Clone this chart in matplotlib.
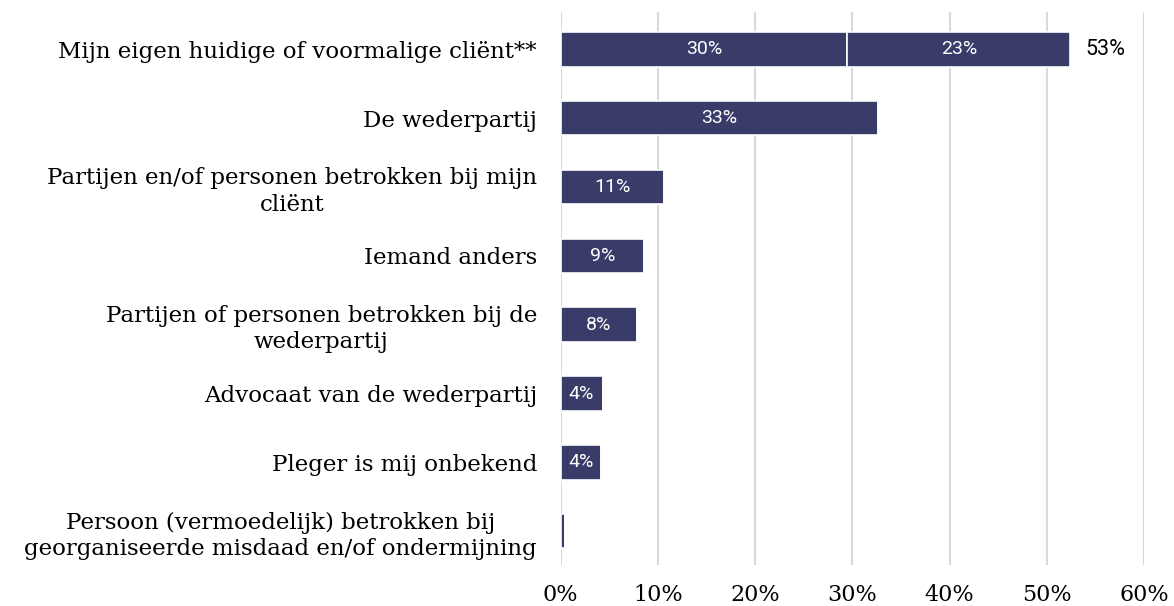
import matplotlib.pyplot as plt
import numpy as np

# categorieen (van boven naar beneden)
categories = [
    'Mijn eigen huidige of voormalige cliënt**',
    'De wederpartij',
    'Partijen en/of personen betrokken bij mijn\ncliënt',
    'Iemand anders',
    'Partijen of personen betrokken bij de\nwederpartij',
    'Advocaat van de wederpartij',
    'Pleger is mij onbekend',
    'Persoon (vermoedelijk) betrokken bij\ngeorganiseerde misdaad en/of ondermijning',
]
deel1 = [29.5, 32.6, 10.6, 8.6, 7.8, 4.3, 4.1, 0.4]
deel2 = [22.9, 0, 0, 0, 0, 0, 0, 0]
labels1 = ['30%', '33%', '11%', '9%', '8%', '4%', '4%', '']
labels2 = ['23%', '', '', '', '', '', '', '']
totaal = ['53%', '', '', '', '', '', '', '']
xticks = [0, 10, 20, 30, 40, 50, 60]

kleur = '#393c69'
serif = ['DejaVu Serif']
sans = ['Roboto', 'DejaVu Sans']

fig = plt.figure(figsize=(11.74, 6.06), dpi=100)
ax = fig.add_axes([0.4776, 0.0677, 0.9744 - 0.4776, 0.980 - 0.0677])

y = np.arange(len(categories))
ax.barh(y, deel1, height=0.5, color=kleur, edgecolor='white', linewidth=1.2, zorder=3)
ax.barh(y, deel2, left=deel1, height=0.5, color=kleur, edgecolor='white', linewidth=1.2, zorder=3)

for i in range(len(categories)):
    if labels1[i]:
        ax.text(deel1[i] / 2, y[i], labels1[i], ha='center', va='center', color='white',
                fontsize=14, family=sans, zorder=4)
    if labels2[i]:
        ax.text(deel1[i] + deel2[i] / 2, y[i], labels2[i], ha='center', va='center', color='white',
                fontsize=14, family=sans, zorder=4)
    if totaal[i]:
        ax.text(deel1[i] + deel2[i] + 1.6, y[i], totaal[i], ha='left', va='center', color='black',
                fontsize=15.5, family=sans, zorder=4)

ax.set_xlim(0, 60)
ax.set_ylim(7.49, -0.54)
ax.set_xticks(xticks)
ax.set_xticklabels([str(t) + '%' for t in xticks], family=serif, fontsize=16)
ax.set_yticks(y)
ax.set_yticklabels(categories, family=serif, fontsize=16.5)
for lbl in ax.get_yticklabels():
    lbl.set_multialignment('center')
    lbl.set_linespacing(1.25)
ax.tick_params(axis='both', length=0)
ax.tick_params(axis='y', pad=17)
ax.tick_params(axis='x', pad=14)
ax.grid(axis='x', color='#d9d9d9', linewidth=1.5, zorder=0)
ax.set_axisbelow(True)
for s in ax.spines.values():
    s.set_visible(False)

fig.savefig('out.png', dpi=100)
